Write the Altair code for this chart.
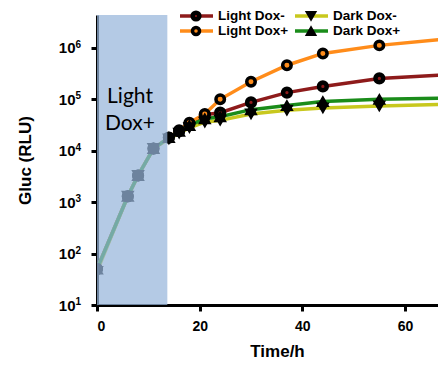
import altair as alt
import pandas as pd

# ---- data ----
times = [0, 6, 8, 11, 14, 16, 18, 21, 24, 30, 37, 44, 55, 68]
light_dox_minus = [50, 1300, 3300, 11000, 18000, 24000, 33000, 50000, 55000, 87000, 135000, 178000, 255000, 300000]
light_dox_plus = [50, 1300, 3300, 11000, 18000, 25000, 35000, 52000, 100000, 220000, 460000, 780000, 1120000, 1500000]
dark_dox_minus = [45, 1300, 3300, 11000, 17000, 22000, 28000, 36000, 39000, 52000, 61000, 68000, 74000, 80000]
dark_dox_plus = [50, 1300, 3300, 11000, 18000, 24000, 31000, 42000, 46000, 63000, 76000, 91000, 100000, 105000]

series_names = ["Light Dox-", "Light Dox+", "Dark Dox-", "Dark Dox+"]
series_values = [light_dox_minus, light_dox_plus, dark_dox_minus, dark_dox_plus]
line_colors = ["#8e1b1b", "#ff8c1a", "#c8c81e", "#1a8c1a"]
light_period = [0, 13.7]
x_ticks = [0, 20, 40, 60]
y_ticks = [10, 100, 1000, 10000, 100000, 1000000]
y_exponents = ["1", "2", "3", "4", "5", "6"]

rows = []
for name, vals in zip(series_names, series_values):
    for t, v in zip(times, vals):
        rows.append({"series": name, "time": t, "gluc": v})
df = pd.DataFrame(rows)

W, H = 341, 290
FONT = "Liberation Sans"
x_scale = alt.Scale(domain=[0, 66.43], nice=False, zero=False)
y_scale = alt.Scale(type="log", domain=[10, 10 ** 6.64], nice=False)

x_axis = alt.Axis(
    values=x_ticks, title="Time/h", grid=False,
    domainWidth=3, domainColor="black", tickColor="black", tickWidth=3, tickSize=6,
    labelFont=FONT, labelFontWeight="bold", labelFontSize=14, labelColor="black", labelPadding=8,
    titleFont=FONT, titleFontWeight="bold", titleFontSize=17, titleColor="black",
    titleX=180, titleY=51, titleBaseline="alphabetic", titleAlign="center",
)
y_axis = alt.Axis(
    values=y_ticks, title="Gluc (RLU)", grid=False,
    domainWidth=3, domainColor="black", tickColor="black", tickWidth=3, tickSize=6,
    labelFont=FONT, labelFontWeight="bold", labelFontSize=15, labelColor="black", labelPadding=16,
    labelExpr="'10'",
    titleFont=FONT, titleFontWeight="bold", titleFontSize=17, titleColor="black",
    titleX=-72, titleY=H / 2, titleAngle=-90, titleBaseline="middle", titleAlign="center",
)

color = alt.Color("series:N", scale=alt.Scale(domain=series_names, range=line_colors), legend=None)

lines = alt.Chart(df).mark_line(strokeWidth=3.5, clip=True).encode(
    x=alt.X("time:Q", scale=x_scale, axis=x_axis),
    y=alt.Y("gluc:Q", scale=y_scale, axis=y_axis),
    color=color,
    order="time:Q",
)

marker_styles = {
    "Light Dox-": dict(shape="circle", fill="#8e1b1b", size=60, strokeWidth=4.5),
    "Light Dox+": dict(shape="circle", fill="#ff8c1a", size=72, strokeWidth=3.5),
    "Dark Dox-": dict(shape="triangle-down", fill="black", size=120, strokeWidth=1.5),
    "Dark Dox+": dict(shape="triangle-up", fill="black", size=120, strokeWidth=1.5),
}

point_layers = []
for name in series_names:
    st = marker_styles[name]
    point_layers.append(
        alt.Chart(df).transform_filter(alt.datum.series == name).mark_point(
            shape=st["shape"], filled=True, fill=st["fill"], stroke="black",
            strokeWidth=st["strokeWidth"], size=st["size"], opacity=1, clip=True,
        ).encode(
            x=alt.X("time:Q", scale=x_scale),
            y=alt.Y("gluc:Q", scale=y_scale),
        )
    )

rect = alt.Chart(pd.DataFrame({"start": [light_period[0]], "end": [light_period[1]]})).mark_rect(
    color="#97b5db", opacity=0.72
).encode(
    x=alt.X("start:Q", scale=x_scale),
    x2="end:Q",
    y=alt.value(0),
    y2=alt.value(H),
)

rect_text = alt.Chart(pd.DataFrame({"a": [0]})).mark_text(
    text=["Light", "Dox+"], font="Lato", fontSize=21, lineHeight=27,
    align="center", baseline="alphabetic", color="black",
).encode(x=alt.value(33), y=alt.value(88))

# exponent of the y tick labels (10^n), placed by the y scale
exp_df = pd.DataFrame({"tick": y_ticks, "exp": y_exponents})
exponents = alt.Chart(exp_df).mark_text(
    font=FONT, fontWeight="bold", fontSize=10, align="right", baseline="alphabetic",
    color="black", dy=0,
).encode(
    x=alt.value(-16),
    y=alt.Y("tick:Q", scale=y_scale),
    text="exp:N",
)

# ---- manual legend (line + marker + label) ----
legend_layers = []
one = pd.DataFrame({"a": [0]})
legend_sizes = {"Light Dox-": 45, "Light Dox+": 50, "Dark Dox-": 95, "Dark Dox+": 95}
for i, name in enumerate(series_names):
    col, row = (0, i) if i < 2 else (1, i - 2)
    x0 = 83 + col * 115
    yy = 1 + row * 15
    st = marker_styles[name]
    legend_layers.append(
        alt.Chart(one).mark_rule(color=line_colors[i], strokeWidth=3.5).encode(
            x=alt.value(x0), x2=alt.value(x0 + 33), y=alt.value(yy)
        )
    )
    legend_layers.append(
        alt.Chart(one).mark_point(
            shape=st["shape"], filled=True, fill=st["fill"], stroke="black",
            strokeWidth=st["strokeWidth"], size=legend_sizes[name], opacity=1,
        ).encode(x=alt.value(x0 + 16), y=alt.value(yy))
    )
    legend_layers.append(
        alt.Chart(one).mark_text(
            text=name, font=FONT, fontWeight="bold", fontSize=13.5, align="left",
            baseline="middle", color="black",
        ).encode(x=alt.value(x0 + 38), y=alt.value(yy))
    )

chart = alt.layer(lines, *point_layers, rect, rect_text, exponents, *legend_layers).properties(
    width=W, height=H,
    autosize=alt.AutoSizeParams(type="none"),
    padding={"left": 89, "top": 7, "right": 0, "bottom": 55},
).configure_view(stroke=None)

chart.save("out.html", embed_options={"renderer": "svg", "actions": False})
